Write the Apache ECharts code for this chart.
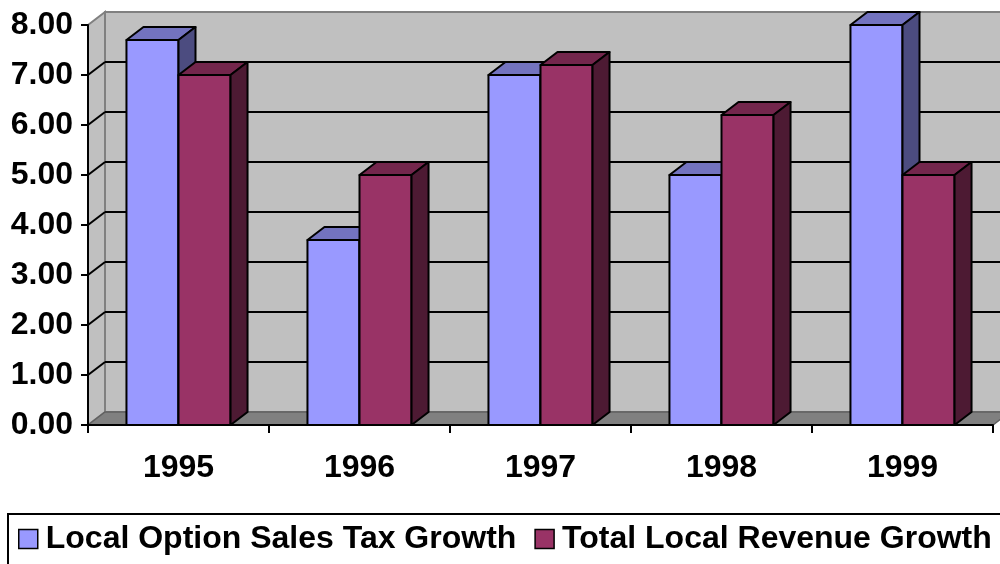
<!DOCTYPE html>
<html>
<head>
<meta charset="utf-8">
<script src="https://cdn.jsdelivr.net/npm/echarts@6/dist/echarts.min.js"></script>
<style>
  html, body { margin: 0; padding: 0; background: #ffffff; }
  #chart { width: 1000px; height: 564px; }
</style>
</head>
<body>
<div id="chart"></div>
<script>
// Annual growth rates (percent)
const years = ['1995', '1996', '1997', '1998', '1999'];
const salesTaxGrowth = [7.7, 3.7, 7.0, 5.0, 8.0];
const revenueGrowth = [7.0, 5.0, 7.2, 6.2, 5.0];
const seriesNames = ['Local Option Sales Tax Growth', 'Total Local Revenue Growth'];
const yTicks = [0, 1, 2, 3, 4, 5, 6, 7, 8];

// Oblique depth offset for the pseudo-3D look
const DX = 17, DY = -13;
const BAR_FRAC = 0.2875;
const FONT = '"Liberation Sans", Arial, Helvetica, sans-serif';

const palettes = [
  { face: '#9999FF', top: '#7373BF', side: '#4C4C80' },
  { face: '#993366', top: '#73264C', side: '#4D1A33' }
];

const edge = { stroke: '#000000', lineWidth: 2, lineJoin: 'round' };

function makeBarRenderer(idx) {
  const pal = palettes[idx];
  return function (params, api) {
    const cat = api.value(0);
    const val = api.value(1);
    const topPt = api.coord([cat, val]);
    const basePt = api.coord([cat, 0]);
    const band = api.size([1, 0])[0];
    const w = band * BAR_FRAC;
    const x0 = idx === 0 ? topPt[0] - w : topPt[0];
    const x1 = x0 + w;
    const yt = topPt[1];
    const yb = basePt[1];
    return {
      type: 'group',
      children: [
        { type: 'polygon', shape: { points: [[x0, yb], [x1, yb], [x1, yt], [x0, yt]] },
          style: Object.assign({ fill: pal.face }, edge) },
        { type: 'polygon', shape: { points: [[x0, yt], [x1, yt], [x1 + DX, yt + DY], [x0 + DX, yt + DY]] },
          style: Object.assign({ fill: pal.top }, edge) },
        { type: 'polygon', shape: { points: [[x1, yb], [x1 + DX, yb + DY], [x1 + DX, yt + DY], [x1, yt]] },
          style: Object.assign({ fill: pal.side }, edge) }
      ]
    };
  };
}

function renderWalls(params, api) {
  const cs = params.coordSys;
  const xL = cs.x, xR = cs.x + cs.width;
  const yTop = cs.y, yBot = cs.y + cs.height;
  const t = api.value(1);
  const y = api.coord([0, t])[1];
  const children = [];
  if (params.dataIndex === 0) {
    children.push({ type: 'polygon',
      shape: { points: [[xL + DX, yTop + DY], [xR + DX, yTop + DY], [xR + DX, yBot + DY], [xL + DX, yBot + DY]] },
      style: { fill: '#C0C0C0', stroke: '#808080', lineWidth: 2 } });
    children.push({ type: 'polygon',
      shape: { points: [[xL, yTop], [xL + DX, yTop + DY], [xL + DX, yBot + DY], [xL, yBot]] },
      style: { fill: '#C0C0C0', stroke: '#808080', lineWidth: 2 } });
    children.push({ type: 'polygon',
      shape: { points: [[xL, yBot], [xL + DX, yBot + DY], [xR + DX, yBot + DY], [xR, yBot]] },
      style: { fill: '#808080', stroke: '#606060', lineWidth: 1.5 } });
  }
  if (t > yTicks[0] && t < yTicks[yTicks.length - 1]) {
    children.push({ type: 'line', shape: { x1: xL + DX, y1: y + DY, x2: xR + DX, y2: y + DY },
      style: { stroke: '#000000', lineWidth: 2 } });
    children.push({ type: 'line', shape: { x1: xL, y1: y, x2: xL + DX, y2: y + DY },
      style: { stroke: '#000000', lineWidth: 2 } });
  }
  return { type: 'group', children: children };
}

const chart = echarts.init(document.getElementById('chart'), null, { renderer: 'canvas' });

chart.setOption({
  animation: false,
  backgroundColor: '#ffffff',
  grid: { left: 88, right: 7, top: 25, bottom: 139, containLabel: false },
  xAxis: {
    type: 'category',
    data: years,
    boundaryGap: true,
    z: 5,
    axisLine: { show: true, lineStyle: { color: '#000000', width: 2 } },
    axisTick: { show: true, interval: 0, length: 8, lineStyle: { color: '#000000', width: 2 } },
    axisLabel: { margin: 27, color: '#000000', fontFamily: FONT, fontSize: 32, fontWeight: 'bold', interval: 0 },
    splitLine: { show: false }
  },
  yAxis: {
    type: 'value',
    min: yTicks[0],
    max: yTicks[yTicks.length - 1],
    interval: 1,
    z: 5,
    axisLine: { show: true, lineStyle: { color: '#000000', width: 2 } },
    axisTick: { show: true, length: 7, lineStyle: { color: '#000000', width: 2 } },
    axisLabel: { margin: 15, color: '#000000', fontFamily: FONT, fontSize: 32, fontWeight: 'bold',
      formatter: function (v) { return v.toFixed(2); } },
    splitLine: { show: false }
  },
  legend: {
    left: 8,
    top: 514,
    width: 1400,
    orient: 'horizontal',
    padding: [9, 60, 12, 10],
    itemGap: 18,
    itemWidth: 19,
    itemHeight: 19,
    icon: 'rect',
    borderColor: '#000000',
    borderWidth: 2,
    textStyle: { color: '#000000', fontFamily: FONT, fontSize: 32, fontWeight: 'bold', padding: [0, 0, 0, 3] },
    data: [
      { name: seriesNames[0], itemStyle: { color: palettes[0].face, borderColor: '#000000', borderWidth: 1.5 } },
      { name: seriesNames[1], itemStyle: { color: palettes[1].face, borderColor: '#000000', borderWidth: 1.5 } }
    ]
  },
  series: [
    {
      type: 'custom',
      name: 'walls',
      z: 1,
      clip: false,
      silent: true,
      renderItem: renderWalls,
      data: yTicks.map(function (t) { return [0, t]; })
    },
    {
      type: 'custom',
      name: seriesNames[0],
      z: 3,
      clip: false,
      itemStyle: { color: palettes[0].face },
      renderItem: makeBarRenderer(0),
      data: salesTaxGrowth.map(function (v, i) { return [i, v]; })
    },
    {
      type: 'custom',
      name: seriesNames[1],
      z: 4,
      clip: false,
      itemStyle: { color: palettes[1].face },
      renderItem: makeBarRenderer(1),
      data: revenueGrowth.map(function (v, i) { return [i, v]; })
    }
  ]
});
</script>
</body>
</html>
